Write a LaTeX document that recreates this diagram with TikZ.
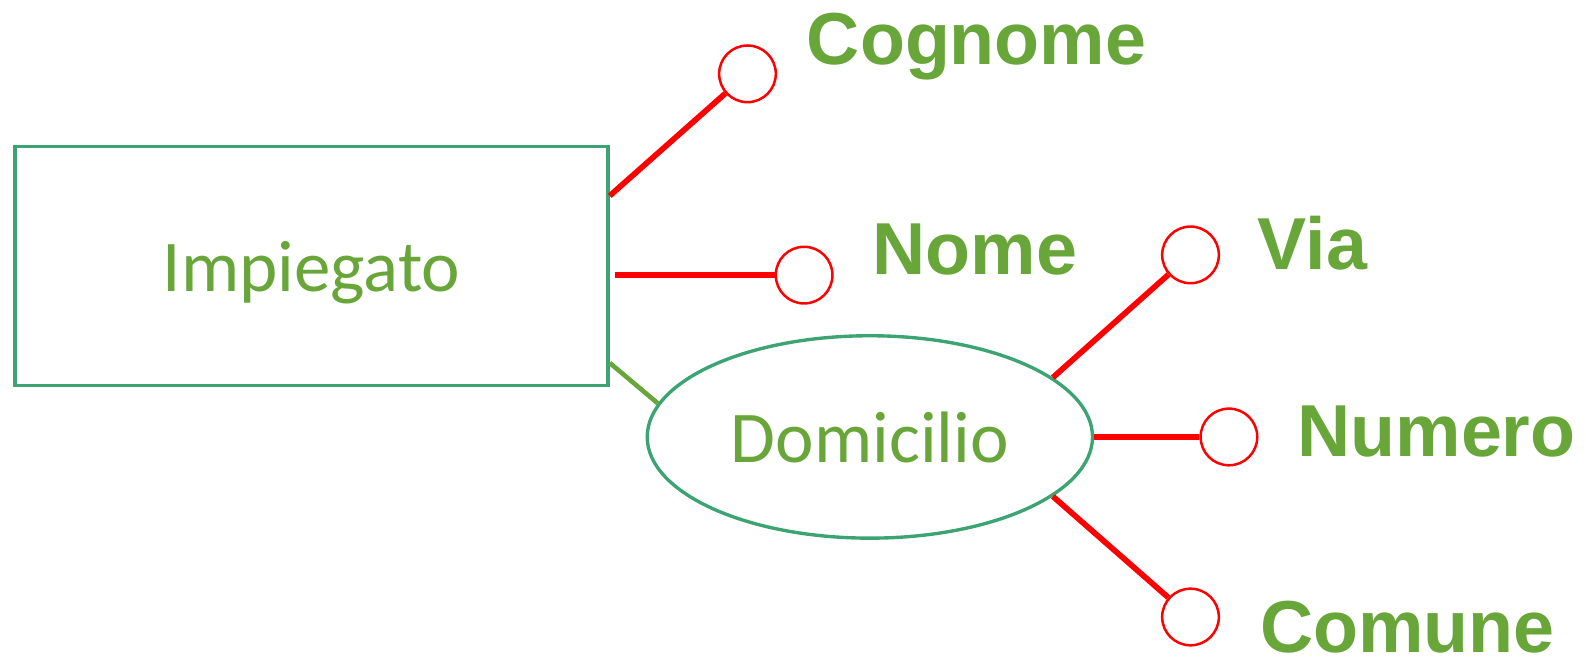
\documentclass[tikz,border=0pt]{standalone}
\usepackage{fontspec}
\setmainfont{Carlito}
\newfontfamily\attrfont{Liberation Sans}
\usepackage{tikz}
\usetikzlibrary{positioning, shapes.geometric, calc}

\definecolor{verdetexto}{RGB}{104,166,58}
\definecolor{verdeborde}{RGB}{60,163,115}
\definecolor{rojoattr}{RGB}{255,0,0}

\begin{document}
\begin{tikzpicture}[
		x=0.01cm, y=-0.01cm,
		% --- ESTILOS ---
		entidad/.style={
			rectangle, draw=verdeborde, line width=0.95pt, text=verdetexto,
			minimum width=5.86cm, minimum height=2.36cm, text depth=0pt,
			font=\fontsize{20.5}{24}\selectfont
		},
		compuesto/.style={
			ellipse, draw=verdeborde, line width=0.95pt, text=verdetexto, inner sep=0pt,
			minimum width=4.4cm, minimum height=2.0cm, text depth=0pt,
			font=\fontsize{20.5}{24}\selectfont
		},
		attrcirc/.style={
			circle, draw=rojoattr, line width=0.7pt, fill=white,
			minimum size=5.6mm, inner sep=0pt
		},
		attrname/.style={
			anchor=base west, inner sep=0pt, text=verdetexto,
			font=\attrfont\bfseries\fontsize{20.7}{24}\selectfont
		},
		attrline/.style={
			draw=rojoattr, line width=1.6pt
		},
		enlace/.style={
			draw=verdetexto, line width=1.3pt
		}
		]
		
		\useasboundingbox (0,0) rectangle (1568,655);
		
		% --- 1. Entidad y atributo compuesto ---
		\node [entidad] (impiegato) at (308,263) {Impiegato};
		\node [compuesto] (domicilio) at (860,432) {Domicilio};
		
		% --- 2. Atributos (circulos + nombre) ---
		\node [attrcirc] (c_cognome) at (739,73) {};
		\node [attrcirc] (c_nome) at (795,272) {};
		\node [attrcirc] (c_via) at (1177,252) {};
		\node [attrcirc] (c_numero) at (1215,432) {};
		\node [attrcirc] (c_comune) at (1177,610) {};
		
		\node [attrname] (cognome) at (797,64) {Cognome};
		\node [attrname] (nome) at (862,271) {Nome};
		\node [attrname] (via) at (1243,266) {Via};
		\node [attrname] (numero) at (1282,451) {Numero};
		\node [attrname] (comune) at (1245,645) {Comune};
		
		% --- 3. Conexiones ---
		% puntos de salida sobre el lado derecho del rectangulo
		\coordinate (p_cognome) at ($(impiegato.north east)!0.21!(impiegato.south east)$);
		\coordinate (p_domicilio) at ($(impiegato.north east)!0.9!(impiegato.south east)$);
		\coordinate (p_nome) at ($(impiegato.east |- c_nome)+(5,0)$);
		
		\draw [attrline] (p_cognome) -- (c_cognome);
		\draw [attrline] (p_nome) -- (c_nome);
		\draw [enlace] (p_domicilio) -- (domicilio.171);
		
		% atributos de Domicilio
		\draw [attrline] (domicilio.18) -- (c_via);
		\draw [attrline] (domicilio.east) -- (c_numero);
		\draw [attrline] (domicilio.-18) -- (c_comune);
		
	\end{tikzpicture}
\end{document}
